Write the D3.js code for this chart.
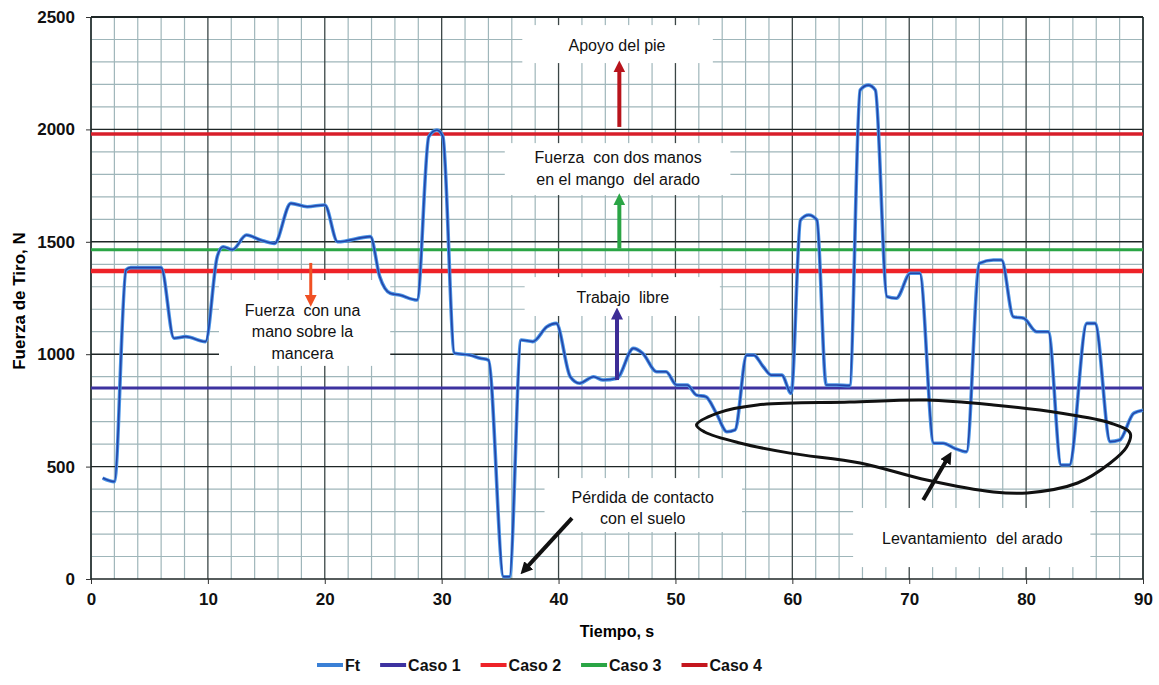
<!DOCTYPE html>
<html>
<head>
<meta charset="utf-8">
<script src="https://cdn.jsdelivr.net/npm/d3@7"></script>
<style>
  body { margin: 0; background: #fff; }
  text { font-family: "Liberation Sans", Arial, sans-serif; }
</style>
</head>
<body>
<svg id="chart" width="1159" height="685"></svg>
<script>
// Ft series (time in s, force in N)
const tiempo = [1.0, 2.0, 3.0, 3.4, 6.0, 7.1, 8.1, 9.8, 10.8, 11.3, 12.1, 13.3, 14.5, 15.7, 17.1, 18.5, 20.0, 21.1,
    23.9, 24.7, 25.6, 26.4, 27.9, 28.9, 29.6, 30.1, 31.1, 32.4, 33.3, 34.0, 35.3, 35.8, 36.8, 37.8, 39.0, 39.8,
    41.0, 41.8, 43.0, 43.8, 45.0, 46.4, 47.2, 48.4, 49.2, 50.1, 51.0, 51.8, 52.6, 53.5, 54.4, 55.1, 56.1, 56.7,
    57.5, 58.2, 59.1, 59.9, 60.7, 61.4, 62.1, 62.9, 63.8, 64.9, 65.8, 66.5, 67.1, 68.1, 68.9, 70.1, 70.9, 72.1,
    72.9, 73.9, 74.9, 76.0, 77.2, 77.9, 78.9, 79.8, 80.9, 81.9, 83.0, 83.7, 85.2, 85.9, 87.2, 88.0, 89.2, 90.0];
const fuerza = [449, 433, 1375, 1385, 1385, 1071, 1078, 1056, 1434, 1478, 1465, 1530, 1508, 1493, 1671, 1656, 1664, 1500,
    1523, 1345, 1271, 1263, 1241, 1968, 1997, 1968, 1004, 996, 982, 974, 10, 10, 1063, 1056, 1122, 1137,
    900, 871, 900, 885, 893, 1026, 1004, 922, 922, 863, 863, 818, 811, 737, 655, 663, 996, 996,
    945, 907, 907, 826, 1597, 1619, 1597, 863, 863, 860, 2175, 2197, 2175, 1256, 1249, 1360, 1360, 604,
    604, 581, 566, 1404, 1419, 1419, 1167, 1160, 1100, 1100, 507, 507, 1137, 1137, 611, 618, 737, 751];

const casoNames = ["Caso 1", "Caso 2", "Caso 3", "Caso 4"];
const casoValues = [850, 1370, 1465, 1980];

const xTicks = [0, 10, 20, 30, 40, 50, 60, 70, 80, 90];
const yTicks = [0, 500, 1000, 1500, 2000, 2500];

const d3 = window.d3;
const svg = d3.select("#chart");

const x = d3.scaleLinear().domain([0, 90]).range([91, 1143]);
const y = d3.scaleLinear().domain([0, 2500]).range([579, 17]);

const casoColors = ["#3d32a0", "#ee2228", "#2aa545", "#d81e2a"];
const casoWidths = [3, 4.5, 3, 3.5];
const legendColors = ["#3a80d6", "#3d32a0", "#ee2228", "#2aa545", "#c4161e"];

// grid
const drawGrid = (g) => {
    g.selectAll("line.vmin")
        .data(d3.range(0, 91, 2).filter((d) => d % 10 != 0))
        .join("line")
        .attr("x1", (d) => x(d)).attr("x2", (d) => x(d))
        .attr("y1", y(0)).attr("y2", y(2500))
        .style("stroke", "#9fb6ba").style("stroke-width", 1.2);
    g.selectAll("line.hmin")
        .data(d3.range(0, 2501, 100).filter((d) => d % 500 != 0))
        .join("line")
        .attr("x1", x(0)).attr("x2", x(90))
        .attr("y1", (d) => y(d)).attr("y2", (d) => y(d))
        .style("stroke", "#9fb6ba").style("stroke-width", 1.2);
    g.selectAll("line.vmaj")
        .data(xTicks)
        .join("line")
        .attr("x1", (d) => x(d)).attr("x2", (d) => x(d))
        .attr("y1", y(0)).attr("y2", y(2500))
        .style("stroke", "#3b4646").style("stroke-width", (d) => (d == 0 || d == 90 ? 2 : 1.3));
    g.selectAll("line.hmaj")
        .data(yTicks)
        .join("line")
        .attr("x1", x(0)).attr("x2", x(90))
        .attr("y1", (d) => y(d)).attr("y2", (d) => y(d))
        .style("stroke", "#1e2626").style("stroke-width", (d) => (d == 2500 ? 2 : 1.4));
};

const gridG = svg.append("g");
gridG.append("g").call(drawGrid);

// white label boxes that hide the grid (data units)
const boxes = [
    [36.9, 53.2, 2295, 2464],
    [35.4, 54.7, 1708, 1939],
    [37.1, 53.8, 1170, 1343],
    [10.95, 25.6, 948, 1330],
    [38.8, 55.7, 209, 449],
    [65.2, 85.5, 53, 316],
];
gridG.selectAll("rect")
    .data(boxes)
    .join("rect")
    .attr("x", (d) => x(d[0]))
    .attr("y", (d) => y(d[3]))
    .attr("width", (d) => x(d[1]) - x(d[0]))
    .attr("height", (d) => y(d[2]) - y(d[3]))
    .style("fill", "#fff");

// axes
const yAxis = d3.axisLeft(y).tickValues(yTicks).tickFormat(d3.format("d")).tickSize(5).tickPadding(11);
const xAxis = d3.axisBottom(x).tickValues(xTicks).tickFormat(d3.format("d")).tickSize(5).tickPadding(9);

const styleAxis = (g) => {
    g.select(".domain").remove();
    g.selectAll(".tick line").style("stroke", "#333");
    g.selectAll("text")
        .style("font-size", "17px")
        .style("font-weight", "bold")
        .style("fill", "#111");
};

svg.append("g").attr("transform", `translate(${x(0)},0)`).call(yAxis).call(styleAxis);
svg.append("g").attr("transform", `translate(0,${y(0)})`).call(xAxis).call(styleAxis);

svg.append("text")
    .attr("x", (x(0) + x(90)) / 2)
    .attr("y", 637)
    .attr("text-anchor", "middle")
    .style("font-size", "16px").style("font-weight", "bold")
    .text("Tiempo, s");

svg.append("text")
    .attr("transform", "translate(25,301) rotate(-90)")
    .attr("text-anchor", "middle")
    .style("font-size", "17px").style("font-weight", "bold")
    .text("Fuerza de Tiro, N");

// reference lines
svg.append("g")
    .selectAll("line")
    .data(casoValues)
    .join("line")
    .attr("x1", x(0)).attr("x2", x(90))
    .attr("y1", (d) => y(d)).attr("y2", (d) => y(d))
    .style("stroke", (d, i) => casoColors[i])
    .style("stroke-width", (d, i) => casoWidths[i]);

// Ft line
const ftData = tiempo.map((t, i) => ({ t: t, v: fuerza[i] }));
const ftLine = d3.line((d) => x(d.t), (d) => y(d.v)).curve(d3.curveMonotoneX);
svg.append("path").datum(ftData).attr("d", ftLine)
    .style("fill", "none").style("stroke", "#4a95e6").style("stroke-width", 3.6)
    .style("stroke-linejoin", "round");
svg.append("path").datum(ftData).attr("d", ftLine)
    .style("fill", "none").style("stroke", "#2445a8").style("stroke-width", 1.6)
    .style("stroke-linejoin", "round");

// hand drawn loop around the lift events
const loop = [[51.8, 685], [53.6, 738], [57.0, 774], [64.9, 787], [71.5, 796], [77.2, 774], [82.9, 738],
    [87.2, 694], [88.9, 649], [88.6, 587], [87.2, 516], [84.4, 427], [80.1, 383], [77.2, 387], [71.5, 440],
    [65.8, 516], [59.8, 560], [55.5, 605], [52.5, 654]];
svg.append("path")
    .datum(loop)
    .attr("d", d3.line((d) => x(d[0]), (d) => y(d[1])).curve(d3.curveCatmullRomClosed))
    .style("fill", "none").style("stroke", "#111").style("stroke-width", 3);

// arrows
const defs = svg.append("defs");
const arrows = [
    { from: [45.2, 2011], to: [45.2, 2264], color: "#b8141c", w: 4 },
    { from: [45.2, 1470], to: [45.2, 1673], color: "#2aa545", w: 4 },
    { from: [45.0, 885], to: [45.0, 1165], color: "#3d2d96", w: 4 },
    { from: [18.8, 1406], to: [18.8, 1254], color: "#f05023", w: 3 },
    { from: [41.15, 271], to: [37.3, 53], color: "#111", w: 4 },
    { from: [71.2, 351], to: [73.2, 529], color: "#111", w: 4 },
];
arrows.forEach((a, i) => {
    defs.append("marker")
        .attr("id", "head" + i)
        .attr("markerUnits", "userSpaceOnUse")
        .attr("viewBox", "0 0 10 10")
        .attr("refX", 2).attr("refY", 5)
        .attr("markerWidth", 12).attr("markerHeight", 12)
        .attr("orient", "auto")
        .append("path")
        .attr("d", "M0,0L10,5L0,10Z")
        .style("fill", a.color);
});
svg.append("g")
    .selectAll("line")
    .data(arrows)
    .join("line")
    .attr("x1", (d) => x(d.from[0])).attr("y1", (d) => y(d.from[1]))
    .attr("x2", (d) => x(d.to[0])).attr("y2", (d) => y(d.to[1]))
    .style("stroke", (d) => d.color)
    .style("stroke-width", (d) => d.w)
    .attr("marker-end", (d, i) => `url(#head${i})`);

// annotation text
const notes = [
    { t: 45.0, v: 2375, lines: ["Apoyo del pie"] },
    { t: 45.1, v: 1877, lines: ["Fuerza  con dos manos", "en el mango  del arado"] },
    { t: 45.5, v: 1254, lines: ["Trabajo  libre"] },
    { t: 18.1, v: 1197, lines: ["Fuerza  con una", "mano sobre la", "mancera"] },
    { t: 47.2, v: 365, lines: ["Pérdida de contacto", "con el suelo"] },
    { t: 75.4, v: 182, lines: ["Levantamiento  del arado"] },
];
notes.forEach((n) => {
    const txt = svg.append("text")
        .attr("x", x(n.t))
        .attr("y", y(n.v))
        .attr("text-anchor", "middle")
        .attr("dominant-baseline", "central")
        .style("font-size", "16px")
        .style("fill", "#111")
        .style("white-space", "pre");
    n.lines.forEach((l, i) => {
        txt.append("tspan").attr("x", x(n.t)).attr("dy", i == 0 ? 0 : 21.5).text(l);
    });
});

// legend, items laid out one after another
const legendNames = ["Ft"].concat(casoNames);
const legend = svg.append("g").attr("transform", "translate(317,665)");
let lx = 0;
legendNames.forEach((name, i) => {
    const item = legend.append("g").attr("transform", `translate(${lx},0)`);
    item.append("line")
        .attr("x1", 0).attr("x2", 26)
        .style("stroke", legendColors[i])
        .style("stroke-width", 4);
    const label = item.append("text")
        .attr("x", 28)
        .attr("dy", "0.35em")
        .style("font-size", "16px").style("font-weight", "bold")
        .style("fill", "#111")
        .text(name);
    lx += 28 + label.node().getComputedTextLength() + 20;
});
</script>
</body>
</html>
